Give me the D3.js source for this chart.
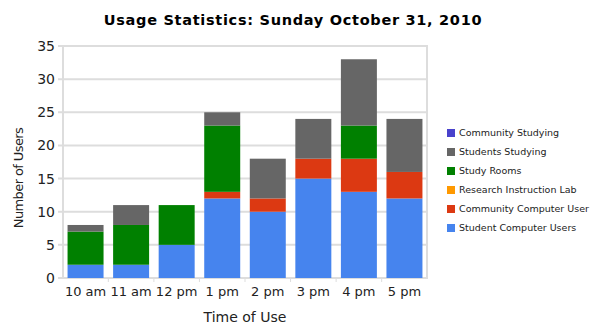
<!DOCTYPE html>
<html><head><meta charset="utf-8">
<script src="https://cdn.jsdelivr.net/npm/d3@7"></script>
<style>body{margin:0;background:#fff;} svg{display:block;font-family:"DejaVu Sans",sans-serif;}</style>
</head><body><svg id="c" width="590" height="332"></svg>
<script>
const categories = ["10 am","11 am","12 pm","1 pm","2 pm","3 pm","4 pm","5 pm"];
const seriesNames = ["Student Computer Users","Community Computer User","Research Instruction Lab","Study Rooms","Students Studying","Community Studying"];
const studentComputer = [2,2,5,12,10,15,13,12];
const communityComputer = [0,0,0,1,2,3,5,4];
const researchLab = [0,0,0,0,0,0,0,0];
const studyRooms = [5,6,6,10,0,0,5,0];
const studentsStudying = [1,3,0,2,6,6,10,8];
const communityStudying = [0,0,0,0,0,0,0,0];
const colors = ["#4684ee","#dc3912","#ff9900","#008000","#666666","#4942cc"];
const yTicks = [0,5,10,15,20,25,30,35];

const seriesVals = [studentComputer,communityComputer,researchLab,studyRooms,studentsStudying,communityStudying];
const rows = categories.map((c,i)=>{const r={cat:c}; seriesNames.forEach((s,j)=>r[s]=seriesVals[j][i]); return r;});
const stack = d3.stack().keys(seriesNames)(rows);

const svg = d3.select("#c");
const m = {l:63,r:427,t:46,b:278};
const x = d3.scaleBand().domain(categories).range([m.l,m.r]).paddingInner(0.21).paddingOuter(0.1);
const y = d3.scaleLinear().domain([0,35]).range([m.b,m.t]);

// gridlines
svg.append("g").selectAll("line").data(yTicks).join("line")
  .attr("x1",m.l-5).attr("x2",m.r).attr("y1",d=>y(d)).attr("y2",d=>y(d))
  .attr("stroke","#dddddd").attr("stroke-width",2);
// frame
svg.append("line").attr("x1",m.l).attr("x2",m.l).attr("y1",m.t-1).attr("y2",m.b+1).attr("stroke","#dddddd").attr("stroke-width",2);
svg.append("line").attr("x1",m.r).attr("x2",m.r).attr("y1",m.t-1).attr("y2",m.b+1).attr("stroke","#dddddd").attr("stroke-width",2);
// x ticks between categories
const xb = categories.map((c,i)=> i===0? null : x(c) - x.step()*x.paddingInner()/2).filter(v=>v!==null);
svg.append("g").selectAll("line").data(xb).join("line")
  .attr("x1",d=>d).attr("x2",d=>d).attr("y1",m.b).attr("y2",m.b+4).attr("stroke","#dddddd").attr("stroke-width",1);

// bars
svg.append("g").selectAll("g").data(stack).join("g").attr("fill",(d,i)=>colors[i])
  .selectAll("rect").data(d=>d).join("rect")
  .attr("x",d=>x(d.data.cat)).attr("width",x.bandwidth())
  .attr("y",d=>y(d[1])).attr("height",d=>y(d[0])-y(d[1]));

// y labels
svg.append("g").selectAll("text").data(yTicks).join("text")
  .attr("x",m.l-8).attr("y",d=>y(d)).attr("dy","0.36em").attr("text-anchor","end")
  .attr("font-size",14).attr("fill","#222").text(d=>d);
// x labels
svg.append("g").selectAll("text").data(categories).join("text")
  .attr("x",d=>x(d)+x.bandwidth()/2).attr("y",296).attr("text-anchor","middle")
  .attr("font-size",13).attr("fill","#222").text(d=>d);

// titles
svg.append("text").attr("x",293).attr("y",25).attr("text-anchor","middle")
  .attr("font-size",14.5).attr("letter-spacing","0.7").attr("font-weight","bold").attr("fill","#000").text("Usage Statistics: Sunday October 31, 2010");
svg.append("text").attr("x",245).attr("y",322).attr("text-anchor","middle")
  .attr("font-size",14).attr("fill","#222").text("Time of Use");
svg.append("text").attr("transform","translate(23,178) rotate(-90)").attr("text-anchor","middle")
  .attr("font-size",13).attr("letter-spacing","-0.6").attr("fill","#222").text("Number of Users");

// legend
const legendOrder = seriesNames.map((s,i)=>({s,c:colors[i]})).reverse();
const lg = svg.append("g").selectAll("g").data(legendOrder).join("g")
  .attr("transform",(d,i)=>`translate(447,${133+i*19})`);
lg.append("rect").attr("x",0).attr("y",-4).attr("width",8).attr("height",8).attr("fill",d=>d.c);
lg.append("text").attr("x",12).attr("y",0).attr("dy","0.35em").attr("font-size",9.5).attr("fill","#222").text(d=>d.s);
</script></body></html>
